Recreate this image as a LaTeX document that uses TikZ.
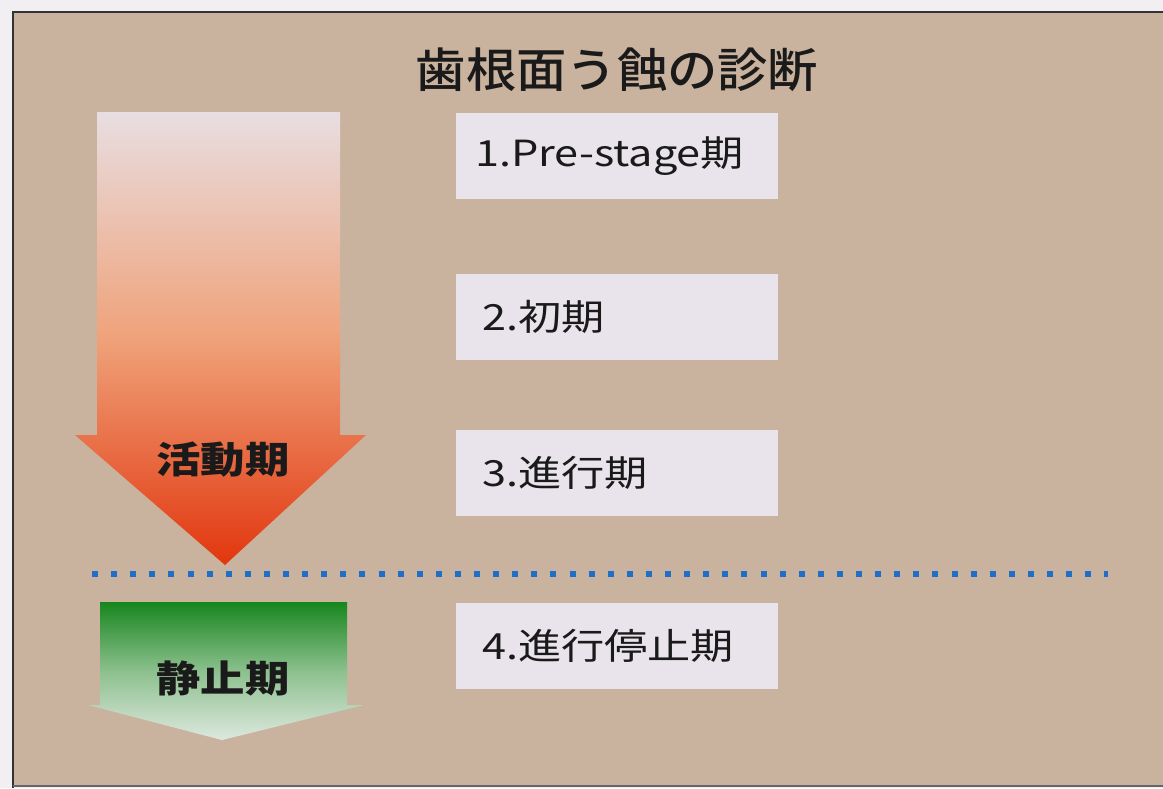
\documentclass[tikz,border=0pt]{standalone}
\usepackage{fontspec}
\newfontfamily\jp{Noto Sans CJK JP}
\newfontfamily\jpm{Noto Sans CJK JP Medium}
\setmainfont{Noto Sans CJK JP}
\definecolor{pagebg}{HTML}{F1EFF2}
\definecolor{panel}{HTML}{C9B39F}
\definecolor{boxfill}{HTML}{E9E3EB}
\definecolor{ink}{HTML}{1A1A1A}
\definecolor{dotblue}{HTML}{1F6FC8}
\definecolor{orTop}{HTML}{E8DEE1}
\definecolor{orMid}{HTML}{EFA27A}
\definecolor{orBot}{HTML}{E2360E}
\definecolor{grTop}{HTML}{17861E}
\definecolor{grMid}{HTML}{8CC08E}
\definecolor{grBot}{HTML}{DDE8DE}
\newcommand{\wide}[2]{\scalebox{#1}[1]{#2}}
\tikzset{
  stagebox/.style={fill=boxfill, draw=none, anchor=north west, minimum height=86pt, minimum width=322pt, inner sep=0pt},
  stagetext/.style={anchor=west, text=ink, inner sep=0pt, font=\jp\fontsize{36}{36}\selectfont},
  arrowlabel/.style={text=ink, inner sep=0pt, font=\jp\bfseries\fontsize{37}{37}\selectfont},
}
\begin{document}
\begin{tikzpicture}[x=1pt,y=-1pt]
\useasboundingbox (0,0) rectangle (1163,788);
\fill[pagebg] (0,0) rectangle (1163,788);
\fill[panel] (13,12) rectangle (1163,786);
\draw[line width=2pt, color=black!80] (13,788) -- (13,12) -- (1163,12);
\draw[line width=1.5pt, color=black!60] (13,786) -- (1163,786);
% title
\node[text=ink, inner sep=0pt, font=\jpm\fontsize{47}{47}\selectfont] (title) at (617,70) {\wide{1.07}{歯根面う蝕の診断}};
% orange arrow
\shade[top color=orTop, bottom color=orBot, middle color=orMid]
  (97,112) -- (340,112) -- (340,435) -- (366,435) -- (225,565) -- (75,435) -- (97,435) -- cycle;
\node[arrowlabel] (active) at (223,460) {\wide{1.2}{活動期}};
% green arrow
\shade[top color=grTop, bottom color=grBot, middle color=grMid]
  (100,602) -- (347,602) -- (347,705) -- (364,705) -- (222,740) -- (88,705) -- (100,705) -- cycle;
\node[arrowlabel] (rest) at (223,678) {\wide{1.2}{静止期}};
% dotted divider
\coordinate (dl) at (92,574);
\coordinate (dr) at (1108,574);
\draw[dotblue, line width=6pt, dash pattern=on 6pt off 13.1pt] (dl) -- (dr);
% stage boxes
\node[stagebox] (b1) at (456,113) {};
\node[stagebox] (b2) at (456,274) {};
\node[stagebox] (b3) at (456,430) {};
\node[stagebox] (b4) at (456,603) {};
\node[stagetext] (t1) at ([xshift=19pt]b1.west) {\wide{1.2}{1.Pre-stage期}};
\node[stagetext] (t2) at ([xshift=26pt]b2.west) {\wide{1.2}{2.初期}};
\node[stagetext] (t3) at ([xshift=26pt]b3.west) {\wide{1.2}{3.進行期}};
\node[stagetext] (t4) at ([xshift=26pt]b4.west) {\wide{1.2}{4.進行停止期}};
\end{tikzpicture}
\end{document}
